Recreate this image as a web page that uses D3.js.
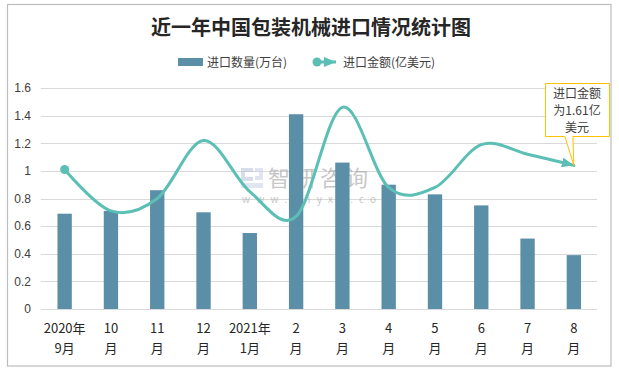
<!DOCTYPE html>
<html><head><meta charset="utf-8">
<script src="https://cdn.jsdelivr.net/npm/d3@7"></script>
<style>
html,body{margin:0;padding:0;background:#fff;}
text{font-family:"Noto Sans CJK SC","Noto Sans",sans-serif;}
</style></head>
<body>
<svg id="chart" width="619" height="370"></svg>
<script>
const categoriesLine1 = ["2020年","10","11","12","2021年","2","3","4","5","6","7","8"];
const categoriesLine2 = ["9月","月","月","月","1月","月","月","月","月","月","月","月"];
const quantity = [0.69, 0.71, 0.86, 0.70, 0.55, 1.41, 1.06, 0.90, 0.83, 0.75, 0.51, 0.39];
const amount = [1.01, 0.71, 0.80, 1.22, 0.85, 0.67, 1.46, 0.88, 0.88, 1.19, 1.12, 1.04];
const yTicks = [0, 0.2, 0.4, 0.6, 0.8, 1, 1.2, 1.4, 1.6];
const title = "近一年中国包装机械进口情况统计图";
const seriesNames = ["进口数量(万台)", "进口金额(亿美元)"];
const calloutLines = ["进口金额", "为1.61亿", "美元"];

const barColor = "#5B8FA8", lineColor = "#5CBFB5";
const svg = d3.select("#chart");
const idx = d3.range(categoriesLine1.length);

// frame
svg.append("rect").attr("x",7.5).attr("y",4.5).attr("width",603.5).attr("height",361.5)
  .attr("fill","#fff").attr("stroke","#BDBDBD").attr("stroke-width",1.2);

svg.append("text").attr("x",311).attr("y",35).attr("text-anchor","middle")
  .attr("font-size",20).attr("font-weight","bold").attr("fill","#262626").text(title);

const x = d3.scaleBand().domain(idx).range([41.5, 597]).paddingInner(0.69).paddingOuter(0.345);
const y = d3.scaleLinear().domain([0,1.6]).range([309, 88]);
const cx = i => x(i) + x.bandwidth()/2;

// gridlines
svg.append("g").selectAll("line").data(yTicks).join("line")
  .attr("x1",41).attr("x2",597).attr("y1",d=>Math.round(y(d))+0.5).attr("y2",d=>Math.round(y(d))+0.5)
  .attr("stroke","#D9D9D9").attr("stroke-width",1);

// y axis labels
const yAxis = d3.axisLeft(y).tickValues(yTicks).tickSize(0).tickPadding(0).tickFormat(d3.format("~g"));
const ga = svg.append("g").attr("transform","translate(31,0)").call(yAxis);
ga.select(".domain").remove();
ga.selectAll("text").attr("font-size",12).attr("fill","#404040")
  .style("font-family","'Liberation Sans','Noto Sans',sans-serif");

// watermark
const wm = svg.append("g").attr("opacity",0.55);
wm.append("path").attr("d","M241,168 h12 v4 h-8 v5 h8 v4 h-12 z").attr("fill","#B8C2DC");
wm.append("path").attr("d","M255,168 h8 v12 h-8 v-4 h4 v-4 h-4 z M241,183 h22 v5 h-22 z").attr("fill","#C9D1E6");
wm.append("text").attr("x",268).attr("y",186).attr("font-size",22).attr("fill","#9A9A9A")
  .attr("letter-spacing",4).text("智研咨询");
wm.append("text").attr("x",242).attr("y",203).attr("font-size",10).attr("fill","#9A9A9A")
  .attr("letter-spacing",6.2).text("www.chyxx.com");

// bars
svg.append("g").selectAll("rect").data(idx).join("rect")
  .attr("x",i=>x(i)).attr("width",x.bandwidth())
  .attr("y",i=>y(quantity[i])).attr("height",i=>y(0)-y(quantity[i]))
  .attr("fill",barColor);

// x labels
const gx = svg.append("g");
idx.forEach(i=>{
  const t = gx.append("text").attr("x",cx(i)).attr("text-anchor","middle").attr("font-size",13).attr("fill","#262626");
  t.append("tspan").attr("x",cx(i)).attr("y",333).text(categoriesLine1[i]);
  t.append("tspan").attr("x",cx(i)).attr("y",353).text(categoriesLine2[i]);
});

// arrow marker
const defs = svg.append("defs");
defs.append("marker").attr("id","arr").attr("markerUnits","userSpaceOnUse")
  .attr("viewBox","0 0 12 10").attr("refX",12).attr("refY",5)
  .attr("markerWidth",12).attr("markerHeight",10).attr("orient","auto")
  .append("path").attr("d","M0,0 L12,5 L0,10 z").attr("fill",lineColor);

// line
const line = d3.line().x(i=>cx(i)).y(i=>y(amount[i])).curve(d3.curveCardinal.tension(0));
svg.append("path").datum(idx).attr("d",line).attr("fill","none")
  .attr("stroke",lineColor).attr("stroke-width",3).attr("stroke-linecap","round")
  .attr("marker-end","url(#arr)");
svg.append("circle").attr("cx",cx(0)).attr("cy",y(amount[0])).attr("r",4.5).attr("fill",lineColor);

// legend
svg.append("rect").attr("x",178).attr("y",58).attr("width",25).attr("height",8).attr("fill",barColor);
svg.append("text").attr("x",207).attr("y",67).attr("font-size",12).attr("fill","#404040").text(seriesNames[0]);
svg.append("line").attr("x1",317).attr("x2",336).attr("y1",62).attr("y2",62)
  .attr("stroke",lineColor).attr("stroke-width",3).attr("marker-end","url(#arr)");
svg.append("circle").attr("cx",317).attr("cy",62).attr("r",4.5).attr("fill",lineColor);
svg.append("text").attr("x",343).attr("y",67).attr("font-size",12).attr("fill","#404040").text(seriesNames[1]);

// callout
const tipX = cx(11), tipY = y(amount[11]);
svg.append("path")
  .attr("d",`M545.5,83.5 H609.5 V136.5 H${tipX-1} L${tipX} ${tipY} L${tipX-9} 136.5 H545.5 Z`)
  .attr("fill","#fff").attr("stroke","#FFC000").attr("stroke-width",1);
calloutLines.forEach((s,k)=>{
  svg.append("text").attr("x",577).attr("y",98+k*17).attr("text-anchor","middle")
    .attr("font-size",12).attr("fill","#404040").text(s);
});
</script>
</body></html>
